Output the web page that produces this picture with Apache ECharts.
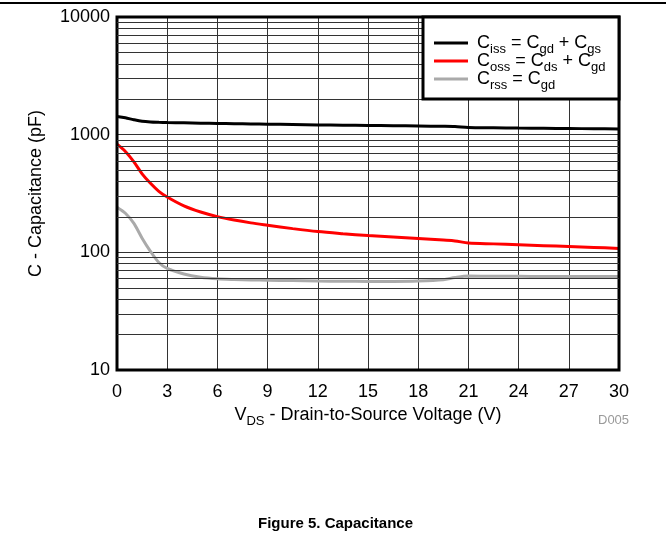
<!DOCTYPE html>
<html>
<head>
<meta charset="utf-8">
<script src="https://cdn.jsdelivr.net/npm/echarts@6/dist/echarts.min.js"></script>
<style>
html,body{margin:0;padding:0;background:#fff;}
#c{width:671px;height:542px;}
</style>
</head>
<body>
<div id="c"></div>
<script>
// Data
var vds  = [0, 0.5, 1, 1.5, 2, 2.5, 3, 4, 5, 6, 7, 8, 9, 10.5, 12, 13.5, 15, 16.5, 18, 19.5, 20.2, 21, 22.5, 24, 25.5, 27, 28.5, 30];
var ciss = [1425, 1390, 1340, 1300, 1282, 1274, 1268, 1260, 1252, 1245, 1240, 1234, 1228, 1219, 1210, 1204, 1198, 1192, 1185, 1178, 1172, 1152, 1145, 1138, 1133, 1128, 1123, 1118];
var coss = [830, 720, 590, 465, 386, 330, 295, 248, 220, 201, 188, 178, 170, 159, 150, 144, 139, 135, 131, 127, 125, 120, 118, 116, 114, 112, 110, 108];
var crss = [242, 215, 177, 132, 102, 82, 73, 65.5, 61.5, 59.6, 58.8, 58.3, 58, 57.5, 57, 56.8, 56.6, 56.6, 57, 58.5, 61, 62.8, 62.6, 62.5, 62.4, 62.3, 62.3, 62.3];
var xTicks = [0, 3, 6, 9, 12, 15, 18, 21, 24, 27, 30];
var yTicks = [10, 100, 1000, 10000];
var yMinorGrid = [20,30,40,50,60,70,80,90,200,300,400,500,600,700,800,900,2000,3000,4000,5000,6000,7000,8000,9000];

function pairs(xs, ys){ return xs.map(function(x,i){ return [x, ys[i]]; }); }

var FONT = 'Liberation Sans, Arial, sans-serif';
var chart = echarts.init(document.getElementById('c'), null, {renderer:'canvas'});
var grid = {left:117, top:17, width:502, height:353};

var legendRich = {
  m:{fontSize:18, fontFamily:FONT, color:'#000', lineHeight:18, verticalAlign:'bottom'},
  s:{fontSize:13, fontFamily:FONT, color:'#000', lineHeight:12, verticalAlign:'bottom', padding:[0,0,-4,0]}
};
var legendNames = {
  'Ciss': '{m|C}{s|iss}{m| = C}{s|gd}{m| + C}{s|gs}',
  'Coss': '{m|C}{s|oss}{m| = C}{s|ds}{m| + C}{s|gd}',
  'Crss': '{m|C}{s|rss}{m| = C}{s|gd}'
};

chart.setOption({
  animation:false,
  backgroundColor:'#fff',
  grid:{left:grid.left, top:grid.top, width:grid.width, height:grid.height, show:true, borderColor:'#000', borderWidth:3, backgroundColor:'transparent', z:5},
  xAxis:{
    type:'value', min:0, max:30, interval:3,
    axisLine:{show:false}, axisTick:{show:false},
    splitLine:{show:true, lineStyle:{color:'#333', width:1}},
    axisLabel:{fontSize:18, fontFamily:FONT, color:'#000', margin:13,
      customValues: xTicks},
    name:'{m|V}{s|DS}{m| - Drain-to-Source Voltage (V)}',
    nameLocation:'middle', nameGap:32,
    nameTextStyle:{rich:{
      m:{fontSize:18, fontFamily:FONT, color:'#000', lineHeight:20, verticalAlign:'bottom'},
      s:{fontSize:13, fontFamily:FONT, color:'#000', lineHeight:14, verticalAlign:'bottom', padding:[0,0,-4,0]}
    }}
  },
  yAxis:{
    type:'log', logBase:10, min:10, max:10000,
    axisLine:{show:false}, axisTick:{show:false},
    splitLine:{show:true, lineStyle:{color:'#333', width:1}},
    axisLabel:{fontSize:18, fontFamily:FONT, color:'#000', margin:7,
      customValues: yTicks,
      formatter:function(v){ return String(Math.round(v)); }},
    name:'C - Capacitance (pF)', nameLocation:'middle', nameGap:72,
    nameTextStyle:{fontSize:18, fontFamily:FONT, color:'#000'}
  },
  legend:{
    orient:'vertical', left:430, top:34, itemGap:-4, itemWidth:34, itemHeight:3,
    icon:'rect', padding:[0,4,0,4], z:20,
    data:['Ciss','Coss','Crss'],
    formatter:function(n){ return legendNames[n]; },
    textStyle:{rich:legendRich, padding:[0,0,0,4]}
  },
  graphic:[
    {type:'line', shape:{x1:0, y1:3, x2:666, y2:3}, style:{stroke:'#000', lineWidth:2}, z:30},
    {type:'rect', shape:{x:423, y:17, width:196, height:82}, style:{fill:'#fff', stroke:'#000', lineWidth:3}, z:15},
    {type:'text', left:598, top:414, style:{text:'D005', fontSize:13, fontFamily:FONT, fill:'#9a9a9a'}, z:30},
    {type:'text', left:'center', top:516, style:{text:'Figure 5. Capacitance', fontSize:15, fontWeight:'bold', fontFamily:FONT, fill:'#000'}, z:30}
  ],
  series:[
    {name:'minorgrid', type:'line', data:[], z:1, silent:true,
      markLine:{silent:true, symbol:'none', label:{show:false}, animation:false,
        lineStyle:{color:'#333', width:1, type:'solid'},
        data: yMinorGrid.map(function(v){ return {yAxis:v}; })}},
    {name:'Crss', type:'line', data:pairs(vds, crss), showSymbol:false, smooth:0.3, z:3,
      itemStyle:{color:'#aaaaaa'}, lineStyle:{color:'#aaaaaa', width:3}},
    {name:'Coss', type:'line', data:pairs(vds, coss), showSymbol:false, smooth:0.3, z:3,
      itemStyle:{color:'#ff0000'}, lineStyle:{color:'#ff0000', width:3}},
    {name:'Ciss', type:'line', data:pairs(vds, ciss), showSymbol:false, smooth:0.3, z:3,
      itemStyle:{color:'#000'}, lineStyle:{color:'#000', width:3}}
  ]
});
</script>
</body>
</html>
